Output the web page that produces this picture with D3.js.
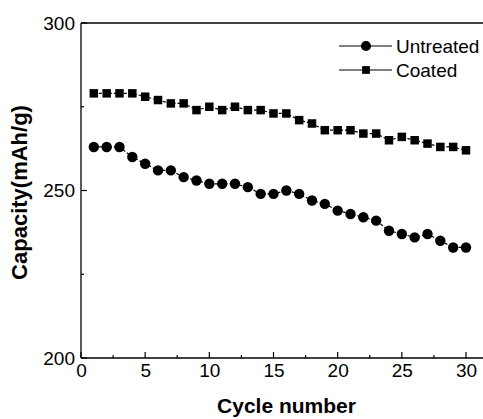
<!DOCTYPE html>
<html>
<head>
<meta charset="utf-8">
<script src="https://cdn.jsdelivr.net/npm/d3@7"></script>
<style>
  html, body { margin: 0; padding: 0; background: #fff; }
  svg { display: block; }
  text { font-family: "Liberation Sans", Arial, Helvetica, sans-serif; fill: #000; }
</style>
</head>
<body>
<svg id="chart" width="483" height="419"></svg>
<script>
// Discharge capacity per cycle
const cycles = d3.range(1, 31);
const untreated = [263,263,263,260,258,256,256,254,253,252,252,252,251,249,249,250,249,247,246,244,243,242,241,238,237,236,237,235,233,233];
const coated    = [279,279,279,279,278,277,276,276,274,275,274,275,274,274,273,273,271,270,268,268,268,267,267,265,266,265,264,263,263,262];
const seriesNames = ["Untreated", "Coated"];
const xTicks = [0, 5, 10, 15, 20, 25, 30];
const yTicks = [200, 250, 300];

const svg = d3.select("#chart");
const plotLeft = 81, plotRight = 466, plotTop = 23, plotBottom = 358;
const frameRight = 490;

const x = d3.scaleLinear().domain([0, 30]).range([plotLeft, plotRight]);
const y = d3.scaleLinear().domain([200, 300]).range([plotBottom, plotTop]);

// top edge of the frame
svg.append("line").attr("x1", plotLeft).attr("x2", frameRight).attr("y1", plotTop).attr("y2", plotTop)
  .attr("stroke", "#000").attr("stroke-width", 1.3);

// bottom axis, ticks pointing inward
const xAxis = d3.axisBottom(x).tickValues(xTicks).tickSize(0).tickPadding(6).tickFormat(d3.format("d"));
const gx = svg.append("g").attr("transform", `translate(0,${plotBottom})`).call(xAxis);
gx.select(".domain").remove();
gx.selectAll("text").attr("font-size", 19).attr("font-family", "Liberation Sans, Arial, sans-serif");
gx.append("line").attr("x1", plotLeft).attr("x2", frameRight).attr("y1", 0).attr("y2", 0)
  .attr("stroke", "#000").attr("stroke-width", 1.3);
gx.selectAll(".tk").data(d3.range(0, 31, 2.5)).join("line")
  .attr("x1", d => x(d)).attr("x2", d => x(d))
  .attr("y1", 0).attr("y2", d => d % 5 === 0 ? -6 : -3)
  .attr("stroke", "#000").attr("stroke-width", 1.2);

// left axis, ticks pointing inward
const yAxis = d3.axisLeft(y).tickValues(yTicks).tickSize(0).tickPadding(6);
const gy = svg.append("g").attr("transform", `translate(${plotLeft},0)`).call(yAxis);
gy.select(".domain").remove();
gy.selectAll("text").attr("font-size", 19).attr("font-family", "Liberation Sans, Arial, sans-serif");
gy.append("line").attr("x1", 0).attr("x2", 0).attr("y1", plotTop).attr("y2", plotBottom)
  .attr("stroke", "#000").attr("stroke-width", 1.3);
gy.selectAll(".tk").data(d3.range(200, 301, 25)).join("line")
  .attr("x1", 0).attr("x2", d => d % 50 === 0 ? 6 : 3)
  .attr("y1", d => y(d)).attr("y2", d => y(d))
  .attr("stroke", "#000").attr("stroke-width", 1.2);

// axis titles
svg.append("text").attr("x", (plotLeft + plotRight) / 2 + 13).attr("y", 413)
  .attr("text-anchor", "middle").attr("font-size", 21).attr("font-weight", "bold")
  .text("Cycle number");
svg.append("text").attr("transform", `translate(27,${(plotTop + plotBottom) / 2 + 2}) rotate(-90)`)
  .attr("text-anchor", "middle").attr("font-size", 22).attr("font-weight", "bold")
  .text("Capacity(mAh/g)");

// data lines and markers
const line = d3.line().x((d, i) => x(cycles[i])).y(d => y(d));

function drawSeries(values, shape) {
  svg.append("path").datum(values).attr("d", line)
    .attr("fill", "none").attr("stroke", "#000").attr("stroke-width", 1.2)
    .attr("stroke-dasharray", "3,2");
  const sym = d3.symbol().type(shape === "circle" ? d3.symbolCircle : d3.symbolSquare)
    .size(shape === "circle" ? 85 : 72);
  svg.append("g").selectAll("path").data(values).join("path")
    .attr("transform", (d, i) => `translate(${x(cycles[i])},${y(d)})`)
    .attr("d", sym).attr("fill", "#000");
}
drawSeries(untreated, "circle");
drawSeries(coated, "square");

// legend
const legend = svg.append("g");
const legendRows = [
  { name: seriesNames[0], shape: d3.symbolCircle, size: 80, cy: 46 },
  { name: seriesNames[1], shape: d3.symbolSquare, size: 60, cy: 70 }
];
legendRows.forEach(r => {
  legend.append("line").attr("x1", 339).attr("x2", 392).attr("y1", r.cy).attr("y2", r.cy)
    .attr("stroke", "#000").attr("stroke-width", 1.2);
  legend.append("path").attr("transform", `translate(366,${r.cy})`)
    .attr("d", d3.symbol().type(r.shape).size(r.size)()).attr("fill", "#000");
  legend.append("text").attr("x", 396).attr("y", r.cy + 7)
    .attr("font-size", 19).text(r.name);
});
</script>
</body>
</html>
